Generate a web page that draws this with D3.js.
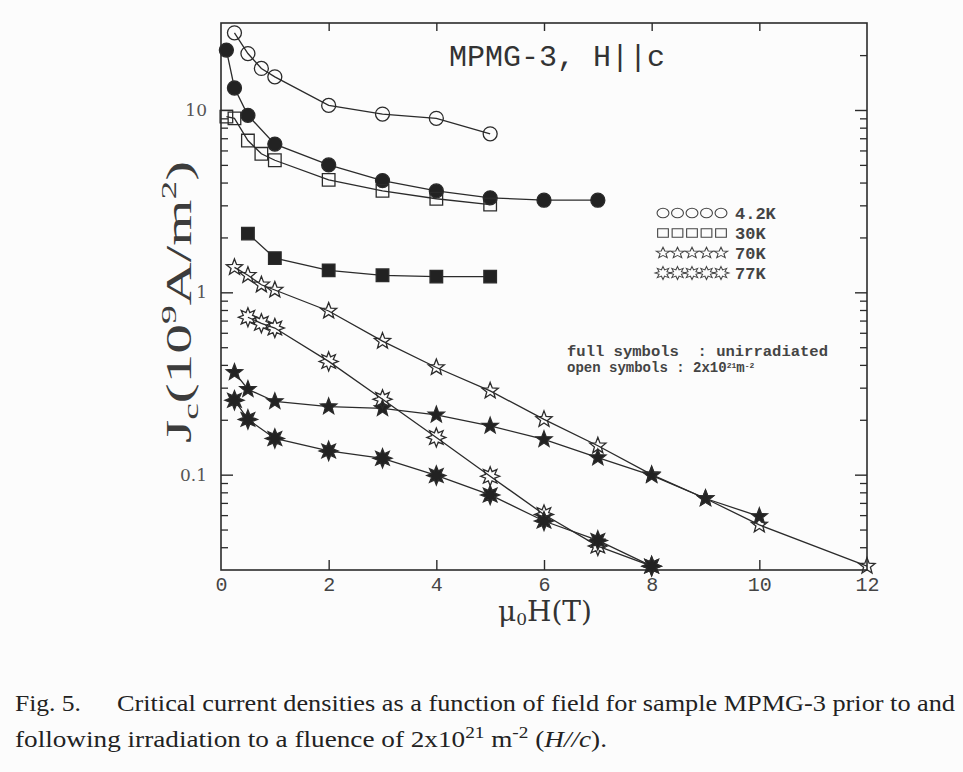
<!DOCTYPE html>
<html><head><meta charset="utf-8">
<script src="https://cdn.jsdelivr.net/npm/d3@7"></script>
<style>body{margin:0;background:#fcfcfc} svg{display:block}</style>
</head><body><svg id="c" width="963" height="772"></svg>
<script>
// ---- data (field in T, Jc in 10^9 A/m^2) ----
const field42Kirr   = [0.25, 0.5, 0.75, 1, 2, 3, 4, 5];
const jc42Kirr      = [26.5, 20.4, 16.9, 15.2, 10.6, 9.5, 9.0, 7.4];
const field42Kunirr = [0.1, 0.25, 0.5, 1, 2, 3, 4, 5, 6, 7];
const jc42Kunirr    = [21.3, 13.2, 9.35, 6.5, 5.0, 4.1, 3.6, 3.3, 3.2, 3.2];
const field30Kirr   = [0.1, 0.25, 0.5, 0.75, 1, 2, 3, 4, 5];
const jc30Kirr      = [9.2, 9.0, 6.8, 5.75, 5.3, 4.14, 3.6, 3.26, 3.03];
const field30Kunirr = [0.5, 1, 2, 3, 4, 5];
const jc30Kunirr    = [2.1, 1.54, 1.32, 1.24, 1.22, 1.22];
const field70Kirr   = [0.25, 0.5, 0.75, 1, 2, 3, 4, 5, 6, 7, 8, 9, 10, 12];
const jc70Kirr      = [1.37, 1.24, 1.10, 1.03, 0.79, 0.54, 0.387, 0.288, 0.201, 0.144, 0.10, 0.074, 0.053, 0.0315];
const field70Kunirr = [0.25, 0.5, 1, 2, 3, 4, 5, 6, 7, 8, 9, 10];
const jc70Kunirr    = [0.364, 0.294, 0.252, 0.236, 0.231, 0.213, 0.185, 0.156, 0.124, 0.099, 0.074, 0.059];
const field77Kirr   = [0.5, 0.75, 1, 2, 3, 4, 5, 6, 7, 8];
const jc77Kirr      = [0.73, 0.676, 0.637, 0.418, 0.259, 0.16, 0.098, 0.0605, 0.0406, 0.0315];
const field77Kunirr = [0.25, 0.5, 1, 2, 3, 4, 5, 6, 7, 8];
const jc77Kunirr    = [0.256, 0.201, 0.158, 0.135, 0.123, 0.099, 0.0774, 0.0557, 0.0436, 0.0315];

const xTicks = [0, 2, 4, 6, 8, 10, 12];
const yMajor = [0.1, 1, 10];
const yMajorLabels = ["0.1", "1", "10"];
const yMinor = [0.04,0.05,0.06,0.07,0.08,0.09,0.2,0.3,0.4,0.5,0.6,0.7,0.8,0.9,2,3,4,5,6,7,8,9,20];
const legendLabels = ["4.2K", "30K", "70K", "77K"];

const series = [
  {x: field42Kirr,   y: jc42Kirr,   shape: "circle", filled: false},
  {x: field42Kunirr, y: jc42Kunirr, shape: "circle", filled: true},
  {x: field30Kirr,   y: jc30Kirr,   shape: "square", filled: false},
  {x: field30Kunirr, y: jc30Kunirr, shape: "square", filled: true},
  {x: field70Kirr,   y: jc70Kirr,   shape: "star",   filled: false},
  {x: field70Kunirr, y: jc70Kunirr, shape: "star",   filled: true},
  {x: field77Kirr,   y: jc77Kirr,   shape: "sun",    filled: false},
  {x: field77Kunirr, y: jc77Kunirr, shape: "sun",    filled: true}
];

const ink = "#2b2b2b";
const L = 221, R = 867, T = 23, B = 570;
const x = d3.scaleLinear().domain([0, 12]).range([L, R]);
const y = d3.scaleLog().domain([0.03, 30]).range([B, T]);

const svg = d3.select("#c");
svg.append("rect").attr("width", 963).attr("height", 772).attr("fill", "#fcfcfc");

function starPath(n, ro, ri) {
  const pts = [];
  for (let i = 0; i < 2 * n; i++) {
    const a = -Math.PI / 2 + i * Math.PI / n;
    const r = i % 2 === 0 ? ro : ri;
    pts.push([r * Math.cos(a), r * Math.sin(a)]);
  }
  return "M" + pts.map(p => p[0].toFixed(2) + "," + p[1].toFixed(2)).join("L") + "Z";
}
function markerPath(shape, s) {
  s = s || 1;
  if (shape === "circle") { const r = 7 * s; return `M${r},0A${r},${r} 0 1 1 ${-r},0A${r},${r} 0 1 1 ${r},0Z`; }
  if (shape === "square") { const h = 6.3 * s; return `M${-h},${-h}H${h}V${h}H${-h}Z`; }
  if (shape === "star") return starPath(5, 8.5 * s, 3.6 * s);
  if (shape === "sun") return starPath(8, 9.5 * s, 5 * s);
}

// frame
const frame = svg.append("g").attr("stroke", ink).attr("stroke-width", 1.6).attr("fill", "none");
frame.append("rect").attr("x", L).attr("y", T).attr("width", R - L).attr("height", B - T);

// axes
const axFont = "'Liberation Mono', monospace";
const gB = svg.append("g").attr("transform", `translate(0,${B})`)
  .call(d3.axisBottom(x).tickValues(xTicks).tickSizeInner(-10).tickSizeOuter(0).tickPadding(7).tickFormat(d3.format("d")));
gB.select(".domain").remove();
gB.selectAll("text").attr("font-family", axFont).attr("font-size", 20).attr("fill", "#444");
gB.selectAll("line").attr("stroke", ink).attr("stroke-width", 1.4);
gB.selectAll(".tick").filter(d => d === 0 || d === 12).select("line").remove();

const gT = svg.append("g").attr("transform", `translate(0,${T})`)
  .call(d3.axisTop(x).tickValues(xTicks.filter(d => d > 0 && d < 12)).tickSizeInner(-8).tickSizeOuter(0).tickFormat(""));
gT.select(".domain").remove();
gT.selectAll("line").attr("stroke", ink).attr("stroke-width", 1.4);

const gL = svg.append("g").attr("transform", `translate(${L},0)`)
  .call(d3.axisLeft(y).tickValues(yMajor).tickSizeInner(-12).tickSizeOuter(0).tickPadding(14)
    .tickFormat((d, i) => yMajorLabels[i]));
gL.select(".domain").remove();
gL.selectAll("text").attr("font-family", "'DejaVu Serif', serif").attr("font-size", 17).attr("fill", "#555");
gL.selectAll("line").attr("stroke", ink).attr("stroke-width", 1.4);
const gLm = svg.append("g").attr("transform", `translate(${L},0)`)
  .call(d3.axisLeft(y).tickValues(yMinor).tickSizeInner(-7).tickSizeOuter(0).tickFormat(""));
gLm.select(".domain").remove();
gLm.selectAll("line").attr("stroke", ink).attr("stroke-width", 1.3);

const gR = svg.append("g").attr("transform", `translate(${R},0)`)
  .call(d3.axisRight(y).tickValues(yMajor).tickSizeInner(-12).tickSizeOuter(0).tickFormat(""));
gR.select(".domain").remove();
gR.selectAll("line").attr("stroke", ink).attr("stroke-width", 1.4);
const gRm = svg.append("g").attr("transform", `translate(${R},0)`)
  .call(d3.axisRight(y).tickValues(yMinor).tickSizeInner(-7).tickSizeOuter(0).tickFormat(""));
gRm.select(".domain").remove();
gRm.selectAll("line").attr("stroke", ink).attr("stroke-width", 1.3);

// lines and markers
const line = d3.line().x(d => x(d[0])).y(d => y(d[1]));
series.forEach(s => {
  const pts = s.x.map((v, i) => [v, s.y[i]]);
  svg.append("path").datum(pts).attr("d", line).attr("fill", "none").attr("stroke", ink).attr("stroke-width", 1.3);
  svg.append("g").selectAll("path").data(pts).join("path")
    .attr("transform", d => `translate(${x(d[0])},${y(d[1])})`)
    .attr("d", markerPath(s.shape))
    .attr("fill", s.filled ? "#222" : "none")
    .attr("stroke", ink).attr("stroke-width", 1.3);
});

// title
svg.append("text").attr("x", 449).attr("y", 66).attr("font-family", axFont).attr("font-size", 30)
  .attr("fill", "#333").text("MPMG-3, H||c");

// legend
const legShapes = ["circle", "square", "star", "sun"];
legendLabels.forEach((lab, i) => {
  const ly = 213 + i * 20;
  for (let k = 0; k < 5; k++) {
    svg.append("path").attr("transform", `translate(${663 + k * 14.5},${ly}) scale(1,0.8)`)
      .attr("d", markerPath(legShapes[i], 0.85)).attr("fill", "none").attr("stroke", "#444").attr("stroke-width", 1.1);
  }
  svg.append("text").attr("x", 735).attr("y", ly + 6).attr("font-family", axFont).attr("font-size", 17)
    .attr("font-weight", "bold").attr("fill", "#444").text(lab);
});

// annotation
const ann = svg.append("g").attr("font-family", axFont).attr("font-size", 14).attr("fill", "#444").attr("font-weight", "bold");
ann.append("text").attr("x", 567).attr("y", 356).attr("xml:space", "preserve")
  .attr("textLength", 261).attr("lengthAdjust", "spacingAndGlyphs").text("full symbols  : unirradiated");
const a2 = ann.append("text").attr("x", 567).attr("y", 372).attr("xml:space", "preserve");
a2.append("tspan").text("open symbols : 2x10");
a2.append("tspan").attr("dy", -4).attr("font-size", 8).text("21");
a2.append("tspan").attr("dy", 4).text("m");
a2.append("tspan").attr("dy", -4).attr("font-size", 8).text("-2");

// axis titles
const xl = svg.append("text").attr("x", 545).attr("y", 621).attr("text-anchor", "middle")
  .attr("font-family", "'DejaVu Serif', serif").attr("font-size", 28).attr("fill", "#333");
xl.append("tspan").text("μ");
xl.append("tspan").attr("font-size", 17).attr("dy", 4).text("0");
xl.append("tspan").attr("dy", -4).text("H(T)");

const yl = svg.append("text").attr("transform", "translate(191,302) rotate(-90)").attr("text-anchor", "middle")
  .attr("font-family", "'Liberation Serif', serif").attr("font-size", 35).attr("fill", "#3c3c3c")
  .attr("textLength", 282).attr("lengthAdjust", "spacingAndGlyphs");
yl.append("tspan").text("J");
yl.append("tspan").attr("font-size", 22).attr("dy", 7).text("c");
yl.append("tspan").attr("dy", -7).text("(10");
yl.append("tspan").attr("font-size", 22).attr("dy", -15).text("9");
yl.append("tspan").attr("dy", 15).text("A/m");
yl.append("tspan").attr("font-size", 22).attr("dy", -15).text("2");
yl.append("tspan").attr("dy", 15).text(")");

// caption
const cap = svg.append("g").attr("font-family", "'Liberation Serif', serif").attr("font-size", 24).attr("fill", "#222");
cap.append("text").attr("x", 15).attr("y", 711).attr("textLength", 66).attr("lengthAdjust", "spacingAndGlyphs").text("Fig. 5.");
cap.append("text").attr("x", 117).attr("y", 711).attr("textLength", 838).attr("lengthAdjust", "spacingAndGlyphs")
  .text("Critical current densities as a function of field for sample MPMG-3 prior to and");
const c2 = cap.append("text").attr("x", 15).attr("y", 747).attr("textLength", 592).attr("lengthAdjust", "spacingAndGlyphs");
c2.append("tspan").text("following irradiation to a fluence of 2x10");
c2.append("tspan").attr("dy", -9).attr("font-size", 17).text("21");
c2.append("tspan").attr("dy", 9).text(" m");
c2.append("tspan").attr("dy", -9).attr("font-size", 17).text("-2");
c2.append("tspan").attr("dy", 9).text(" (");
c2.append("tspan").attr("font-style", "italic").text("H//c");
c2.append("tspan").text(").");
</script></body></html>
